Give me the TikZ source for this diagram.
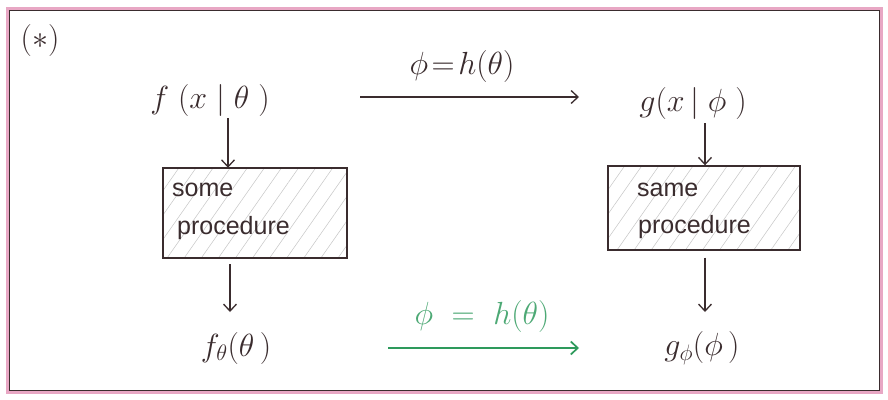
\RequirePackage{fix-cm}
\documentclass[tikz,border=0pt]{standalone}
\usepackage{fontspec}
\setsansfont{Liberation Sans}
\usetikzlibrary{patterns.meta,arrows.meta}
\definecolor{ink}{HTML}{3A2C2E}
\definecolor{grn}{HTML}{2E9A5C}
\definecolor{frame}{HTML}{E8A7C4}
\tikzset{
  arr/.style={draw=ink, line width=1.3pt, -{Straight Barb[length=7pt,width=13pt]}},
  garr/.style={draw=grn, line width=1.7pt, -{Straight Barb[length=7pt,width=13pt]}},
  procbox/.style={draw=ink, line width=1.4pt, pattern={Lines[angle=55,distance=14pt,line width=0.5pt]}, pattern color=gray!45},
  lbl/.style={text=ink, font=\fontsize{32}{36}\selectfont, inner sep=1pt},
  boxtxt/.style={text=ink, font=\sffamily\fontsize{25}{30}\selectfont, anchor=west, inner sep=0pt},
}
\begin{document}
\begin{tikzpicture}[x=1pt,y=-1pt]
\useasboundingbox (0,0) rectangle (888,399);
\fill[white] (0,0) rectangle (888,399);
% frame
\draw[frame, line width=4pt] (8,9) rectangle (881,392);
\draw[ink, line width=0.8pt] (9.5,10.5) rectangle (879.5,390.5);
\node[lbl, font=\fontsize{32}{36}\selectfont] (star) at (40,40) {$(\ast)$};
% top row
\node[lbl] (f) at (210,100) {$f\;(x\;|\;\theta\;)$};
\node[lbl] (g) at (693,103) {$g(x\,|\;\phi\;)$};
\coordinate (ta) at (360,97);
\coordinate (tb) at (579,97);
\draw[arr] (ta) -- (tb);
\node[lbl] (h1) at (462,66) {$\phi\!=\!h(\theta)$};
% left column
\node[procbox, minimum width=184pt, minimum height=90pt] (bl) at (255,213) {};
\node[boxtxt] (bl1) at (172,190) {some};
\node[boxtxt] (bl2) at (177,228) {procedure};
\draw[arr] (228,118) -- (bl.north -| 228,0);
\node[lbl] (fo) at (236,348) {$f_{\theta}(\theta\,)$};
\draw[arr] (bl.south -| 230,0) ++(0,6) -- (230,312);
% right column
\node[procbox, minimum width=192pt, minimum height=84pt] (br) at (704,208) {};
\node[boxtxt] (br1) at (637,190) {same};
\node[boxtxt] (br2) at (638,227) {procedure};
\draw[arr] (705,123) -- (br.north -| 705,0);
\node[lbl] (go) at (702,348) {$g_{\phi}(\phi\,)$};
\draw[arr] (br.south -| 705,0) ++(0,7) -- (705,312);
% green arrow
\coordinate (ga) at (388,348);
\coordinate (gb) at (579,348);
\draw[garr] (ga) -- (gb);
\node[lbl, text=grn!85!white] (h2) at (482,316) {$\phi\ =\ h(\theta)$};
\end{tikzpicture}
\end{document}
